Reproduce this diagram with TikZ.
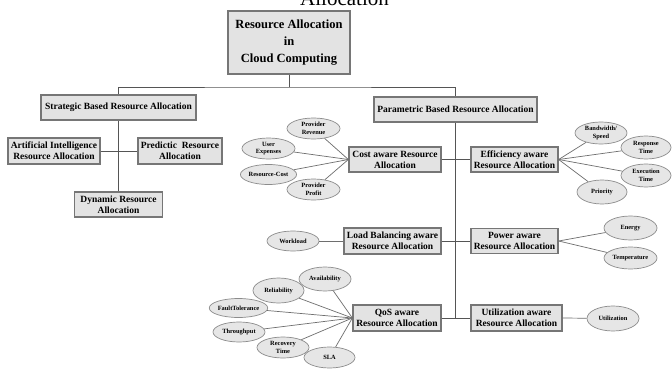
\documentclass[tikz,border=0pt]{standalone}
\usepackage{fontspec}
\setmainfont{Liberation Serif}
\usetikzlibrary{shapes.geometric}
\definecolor{boxfill}{HTML}{E3E3E3}
\definecolor{boxline}{HTML}{767676}
\definecolor{ovalfill}{HTML}{E6E6E6}
\definecolor{ovalline}{HTML}{8C8C8C}
\definecolor{wirecol}{HTML}{555555}

\begin{document}
\begin{tikzpicture}[x=1pt,y=-1pt,
  rbox/.style={draw=boxline, fill=boxfill, line width=1.3pt, inner sep=0pt,
    align=center, font=\bfseries\fontsize{9.5}{11}\selectfont},
  oval/.style={ellipse, draw=ovalline, fill=ovalfill, line width=0.7pt,
    inner sep=0pt, minimum width=52pt, minimum height=22pt, align=center,
    font=\bfseries\fontsize{6.4}{7.4}\selectfont},
  wire/.style={draw=wirecol, line width=0.8pt},
  spoke/.style={draw=wirecol!85, line width=0.7pt}]

% page frame
\useasboundingbox (0,0) rectangle (672,369);
\fill[white] (0,0) rectangle (672,369);
\clip (0,0) rectangle (672,369);

% caption tail running off the top edge
\node[anchor=base west, inner sep=0pt, font=\fontsize{21}{21}\selectfont] (ttl) at (300,6) {Allocation};

% root
\node[rbox, minimum width=122pt, minimum height=63pt, font=\bfseries\fontsize{12.5}{17}\selectfont]
  (main) at (289,42.5) {Resource Allocation\\in\\Cloud Computing};

% strategic branch
\node[rbox, minimum width=155pt, minimum height=25pt] (strat) at (118.5,107.5) {Strategic Based Resource Allocation};
\node[rbox, minimum width=92pt, minimum height=26pt] (ai) at (54,151) {Artificial Intelligence\\Resource Allocation};
\node[rbox, minimum width=84pt, minimum height=26pt] (pred) at (180,151) {Predictic\ \ Resource\\Allocation};
\node[rbox, minimum width=88pt, minimum height=25pt] (dyn) at (118.5,204.5) {Dynamic Resource\\Allocation};

% parametric branch
\node[rbox, minimum width=163pt, minimum height=25pt] (param) at (455.5,109.5) {Parametric Based Resource Allocation};
\node[rbox, minimum width=92pt, minimum height=25pt] (cost) at (395,159.5) {Cost aware Resource\\Allocation};
\node[rbox, minimum width=87pt, minimum height=25pt] (eff) at (514.5,159.5) {Efficiency aware\\Resource Allocation};
\node[rbox, minimum width=97pt, minimum height=26pt] (load) at (392.5,241) {Load Balancing aware\\Resource Allocation};
\node[rbox, minimum width=87pt, minimum height=25pt] (power) at (514.5,241) {Power aware\\Resource Allocation};
\node[rbox, minimum width=88pt, minimum height=26pt] (qos) at (397,318) {QoS aware\\Resource Allocation};
\node[rbox, minimum width=91pt, minimum height=26pt] (util) at (516.5,318) {Utilization aware\\Resource Allocation};

% parameter ovals: cost
\node[oval, minimum width=53pt, minimum height=21pt] (prev) at (313.5,128.5) {Provider\\Revenue};
\node[oval, minimum width=53pt, minimum height=21pt] (uexp) at (268.5,148.5) {User\\Expenses};
\node[oval, minimum width=53pt, minimum height=20pt] (rcost) at (268.5,174.5) {Resource-Cost};
\node[oval, minimum width=53pt, minimum height=21pt] (pprof) at (313.5,189.5) {Provider\\Profit};

% parameter ovals: efficiency
\node[oval, minimum height=22pt] (bw) at (601,133) {Bandwidth/\\Speed};
\node[oval, minimum width=50pt, minimum height=23pt] (resp) at (646,147.5) {Response\\Time};
\node[oval, minimum width=50pt, minimum height=23pt] (exec) at (646,175.5) {Execution\\Time};
\node[oval, minimum width=50pt, minimum height=24pt] (prio) at (602,192) {Priority};

% parameter ovals: power
\node[oval, minimum width=53pt, minimum height=24pt] (energy) at (630.5,228) {Energy};
\node[oval, minimum width=53pt, minimum height=22pt] (temp) at (630.5,258) {Temperature};

% parameter ovals: load balancing and utilization
\node[oval, minimum height=20pt] (work) at (293,241) {Workload};
\node[oval, minimum height=25pt] (utilo) at (613,318.5) {Utilization};

% parameter ovals: QoS
\node[oval, minimum height=24pt] (avail) at (325,279) {Availability};
\node[oval, minimum width=51pt, minimum height=25pt] (reli) at (278.5,290.5) {Reliability};
\node[oval, minimum width=53pt, minimum height=19pt] (fault) at (238.5,308) {FaultTolerance};
\node[oval, minimum height=20pt] (thru) at (239,332) {Throughput};
\node[oval, minimum height=21pt] (recov) at (283,347.5) {Recovery\\Time};
\node[oval, minimum width=51pt, minimum height=21pt] (sla) at (329.5,357.5) {SLA};

% tree connectors
\coordinate (split) at (289,87);
\coordinate (bbend) at (455.5,318);
\draw[wire] (main.south) -- (split);
\draw[wire] (strat.north) |- (split) -| (param.north);
\draw[wire] (strat.south) -- (dyn.north);
\draw[wire] (ai.east) -- (pred.west);
\draw[wire] (param.south) -- (bbend);
\draw[wire] (cost.east) -- (eff.west);
\draw[wire] (load.east) -- (power.west);
\draw[wire] (qos.east) -- (util.west);

% spokes to the parameter ovals
\foreach \e in {prev,uexp,rcost,pprof} \draw[spoke] (cost.west) -- (\e);
\foreach \e in {bw,resp,exec,prio} \draw[spoke] (eff.east) -- (\e);
\foreach \e in {energy,temp} \draw[spoke] (power.east) -- (\e);
\draw[spoke] (load.west) -- (work);
\draw[spoke] (util.east) -- (utilo);
\foreach \e in {avail,reli,fault,thru,recov,sla} \draw[spoke] (qos.west) -- (\e);
\end{tikzpicture}
\end{document}
